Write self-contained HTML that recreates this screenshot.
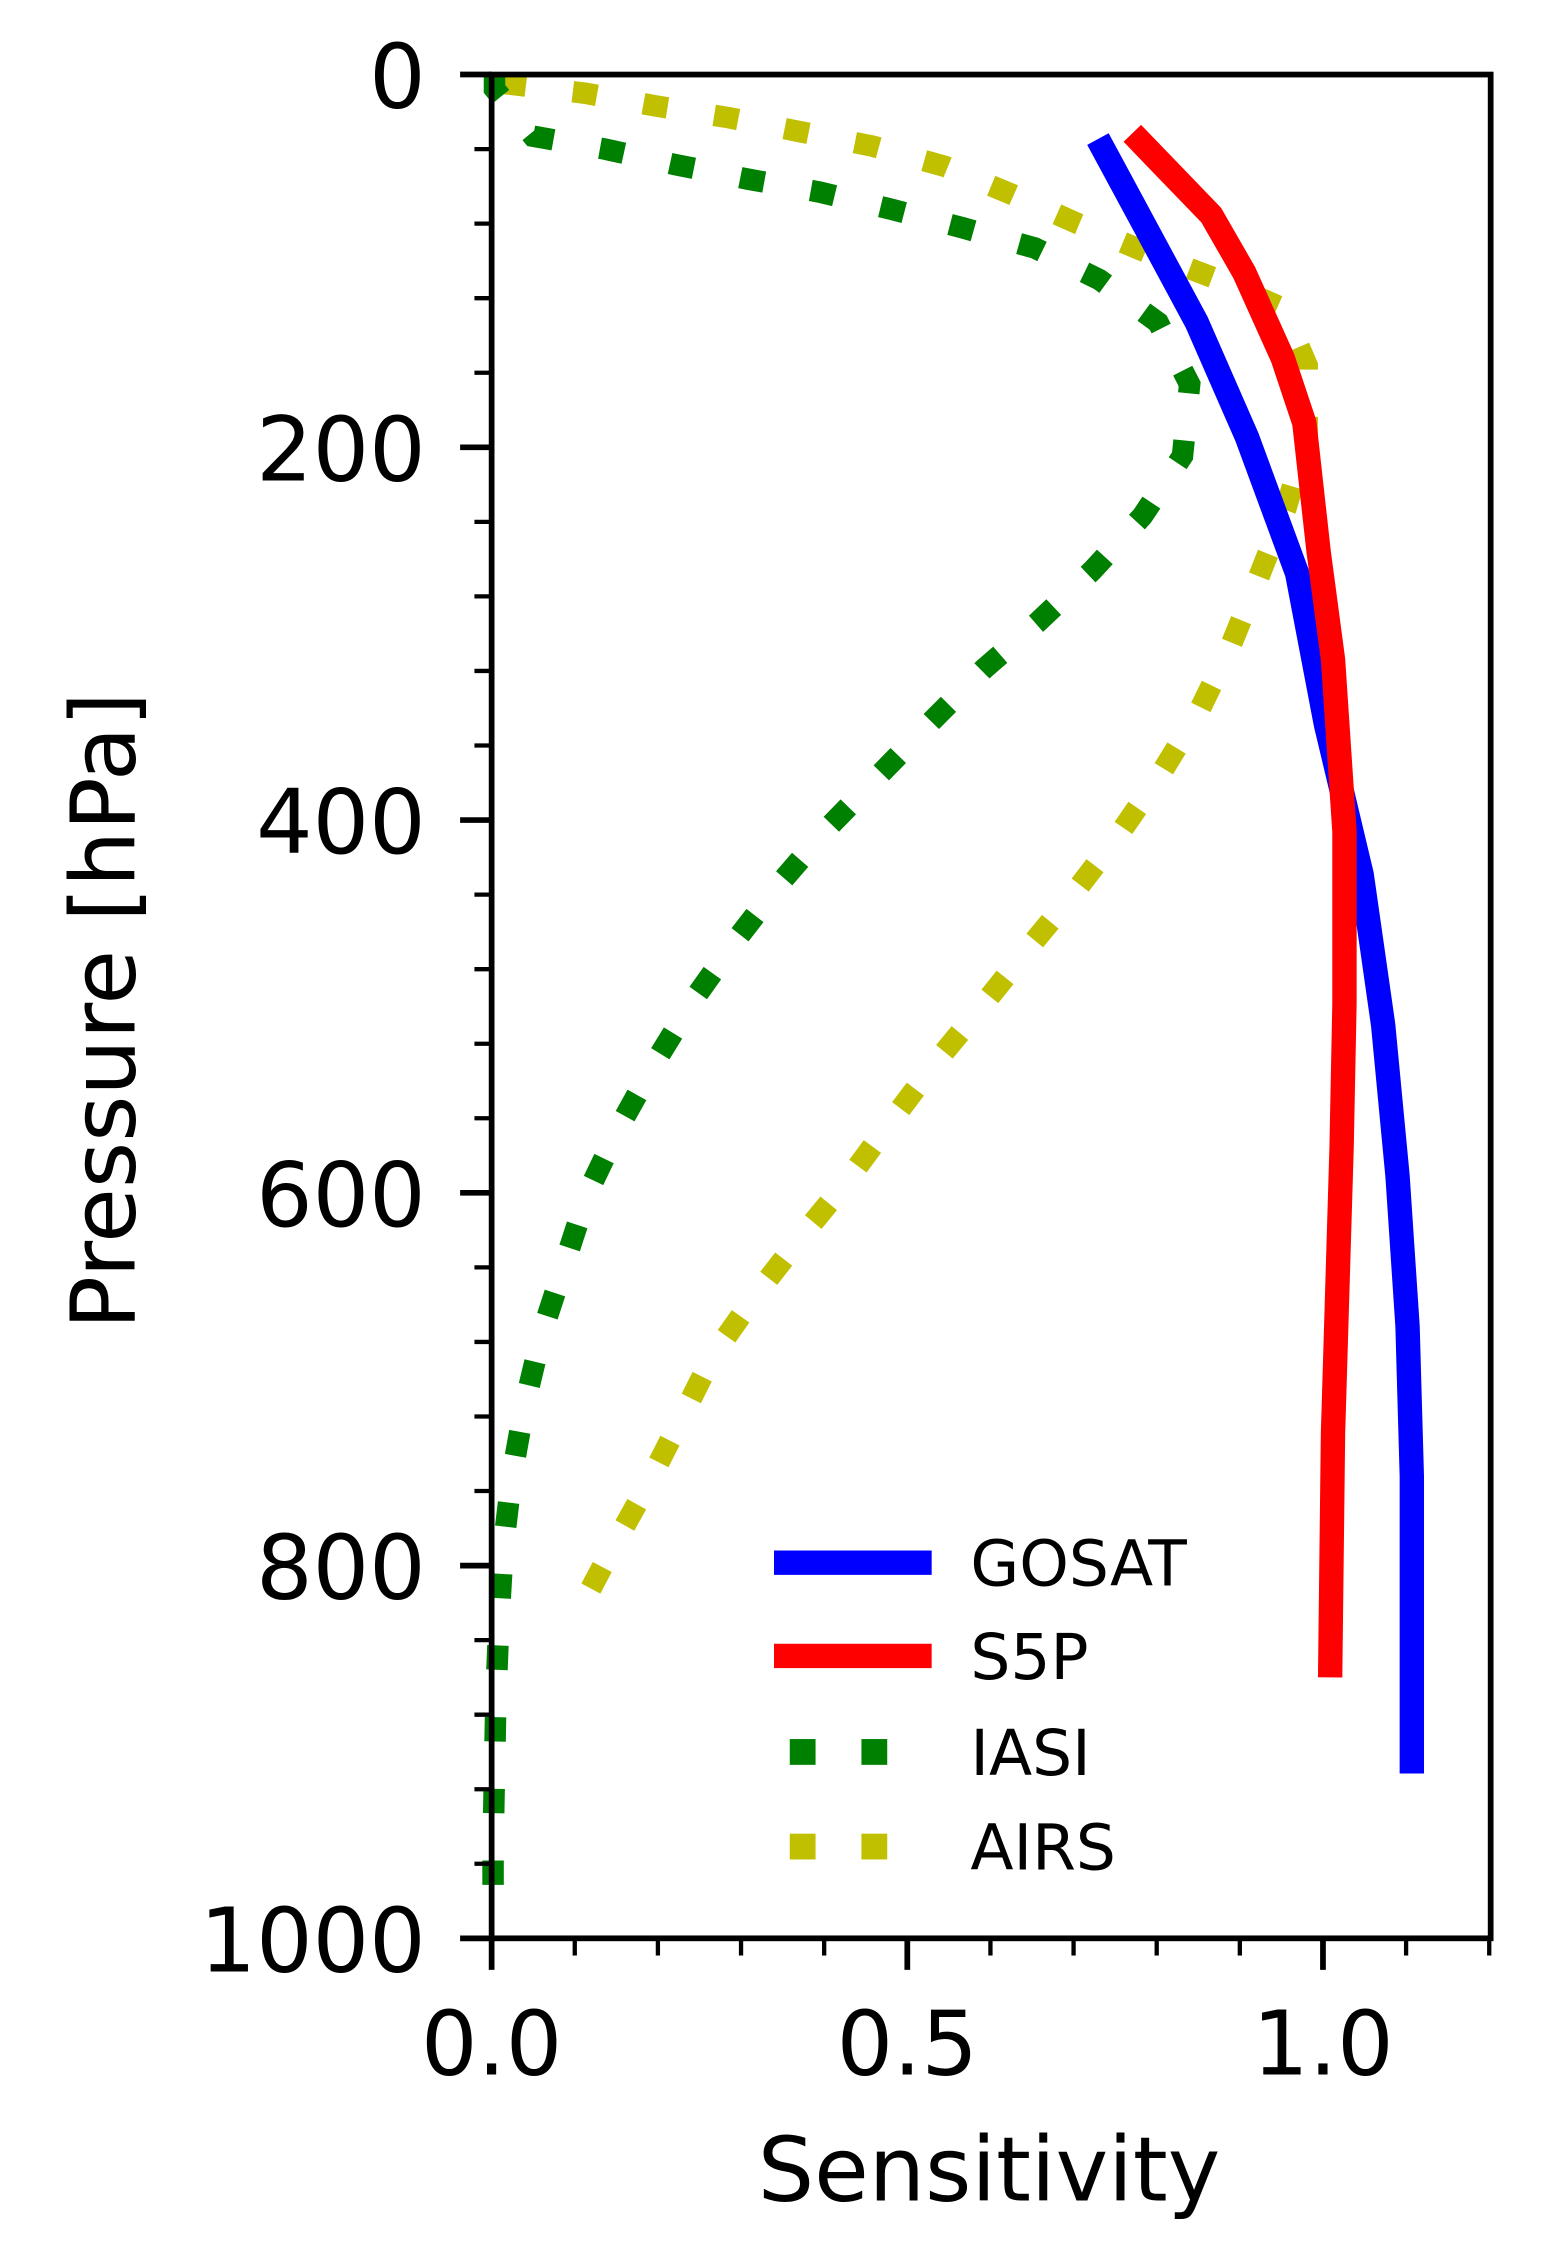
<!DOCTYPE html>
<html><head><style>
html,body{margin:0;padding:0;background:#fff;}
svg{display:block;}
text{font-family:"DejaVu Sans","Liberation Sans",sans-serif;fill:#000;}
</style></head><body>
<svg width="1548" height="2248" viewBox="0 0 1080 1568" preserveAspectRatio="none" xmlns="http://www.w3.org/2000/svg">
<rect width="1080" height="1568" fill="#fff"/>
<polyline fill="none" stroke="#c0c000" stroke-width="15" stroke-dasharray="17 33" points="350,58 408,65 458,74 508,82 559,92 609,102 659,116 707,136 752,156 800,176 850,195 895,215 912,255 912,305 897,355 878,403 858,452 836,497 809,541 780,583 750,622 717,662 685,702 652,742 621,783 590,825 557,865 526,905 497,946 474,992 451,1037 426,1082 398,1135"/>
<polyline fill="none" stroke="#008000" stroke-width="15" stroke-dasharray="17 33" points="345,52 345,62 372,95 422,104 472,115 522,125 572,134 622,146 672,159 722,173 767,195 808,225 830,268 825,318 797,360 762,398 724,434 686,467 650,503 614,540 578,577 545,615 514,655 484,697 457,741 432,786 410,832 394,881 378,930 366,980 357,1030 351,1080 348,1132 346,1183 345,1235 344,1287 344,1335"/>
<polyline fill="none" stroke="#0000ff" stroke-width="17" stroke-linejoin="round" points="766,97 800,160 835,225 870,305 905,400 925,505 950,610 965,715 975,820 982,925 985,1030 985,1237"/>
<polyline fill="none" stroke="#ff0000" stroke-width="17" stroke-linejoin="round" points="790,93 845,150 868,190 895,250 910,295 920,385 930,460 938,580 938,700 936,800 933,900 930,1000 928,1170"/>
<rect x="343" y="52" width="697" height="1300" fill="none" stroke="#000" stroke-width="4"/>
<g stroke="#000" stroke-width="4">
<line x1="321" y1="52" x2="343" y2="52"/><line x1="321" y1="312" x2="343" y2="312"/><line x1="321" y1="572" x2="343" y2="572"/><line x1="321" y1="832" x2="343" y2="832"/><line x1="321" y1="1092" x2="343" y2="1092"/><line x1="321" y1="1352" x2="343" y2="1352"/>
<line x1="343" y1="1352" x2="343" y2="1374"/><line x1="633" y1="1352" x2="633" y2="1374"/><line x1="923" y1="1352" x2="923" y2="1374"/>
</g>
<g stroke="#000" stroke-width="3">
<line x1="331" y1="104" x2="343" y2="104"/><line x1="331" y1="156" x2="343" y2="156"/><line x1="331" y1="208" x2="343" y2="208"/><line x1="331" y1="260" x2="343" y2="260"/>
<line x1="331" y1="364" x2="343" y2="364"/><line x1="331" y1="416" x2="343" y2="416"/><line x1="331" y1="468" x2="343" y2="468"/><line x1="331" y1="520" x2="343" y2="520"/>
<line x1="331" y1="624" x2="343" y2="624"/><line x1="331" y1="676" x2="343" y2="676"/><line x1="331" y1="728" x2="343" y2="728"/><line x1="331" y1="780" x2="343" y2="780"/>
<line x1="331" y1="884" x2="343" y2="884"/><line x1="331" y1="936" x2="343" y2="936"/><line x1="331" y1="988" x2="343" y2="988"/><line x1="331" y1="1040" x2="343" y2="1040"/>
<line x1="331" y1="1144" x2="343" y2="1144"/><line x1="331" y1="1196" x2="343" y2="1196"/><line x1="331" y1="1248" x2="343" y2="1248"/><line x1="331" y1="1300" x2="343" y2="1300"/>
<line x1="401" y1="1352" x2="401" y2="1364"/><line x1="459" y1="1352" x2="459" y2="1364"/><line x1="517" y1="1352" x2="517" y2="1364"/><line x1="575" y1="1352" x2="575" y2="1364"/>
<line x1="691" y1="1352" x2="691" y2="1364"/><line x1="749" y1="1352" x2="749" y2="1364"/><line x1="807" y1="1352" x2="807" y2="1364"/><line x1="865" y1="1352" x2="865" y2="1364"/>
<line x1="981" y1="1352" x2="981" y2="1364"/><line x1="1039" y1="1352" x2="1039" y2="1364"/>
</g>
<g font-size="62" text-anchor="end">
<text x="297" y="75">0</text><text x="297" y="335">200</text><text x="297" y="595">400</text><text x="297" y="855">600</text><text x="297" y="1115">800</text><text x="297" y="1375">1000</text>
</g>
<g font-size="62" text-anchor="middle">
<text x="343" y="1447">0.0</text><text x="633" y="1447">0.5</text><text x="923" y="1447">1.0</text>
<text x="690" y="1535">Sensitivity</text>
<text transform="translate(94,705) rotate(-90)">Pressure [hPa]</text>
</g>
<line x1="540" y1="1090" x2="650" y2="1090" stroke="#0000ff" stroke-width="17"/>
<line x1="540" y1="1155" x2="650" y2="1155" stroke="#ff0000" stroke-width="17"/>
<rect x="551" y="1213" width="18" height="18" fill="#008000"/><rect x="601" y="1213" width="18" height="18" fill="#008000"/>
<rect x="551" y="1279" width="18" height="18" fill="#c0c000"/><rect x="601" y="1279" width="18" height="18" fill="#c0c000"/>
<g font-size="44">
<text x="677" y="1106">GOSAT</text><text x="677" y="1171">S5P</text><text x="677" y="1238">IASI</text><text x="677" y="1304">AIRS</text>
</g>
</svg>
</body></html>
